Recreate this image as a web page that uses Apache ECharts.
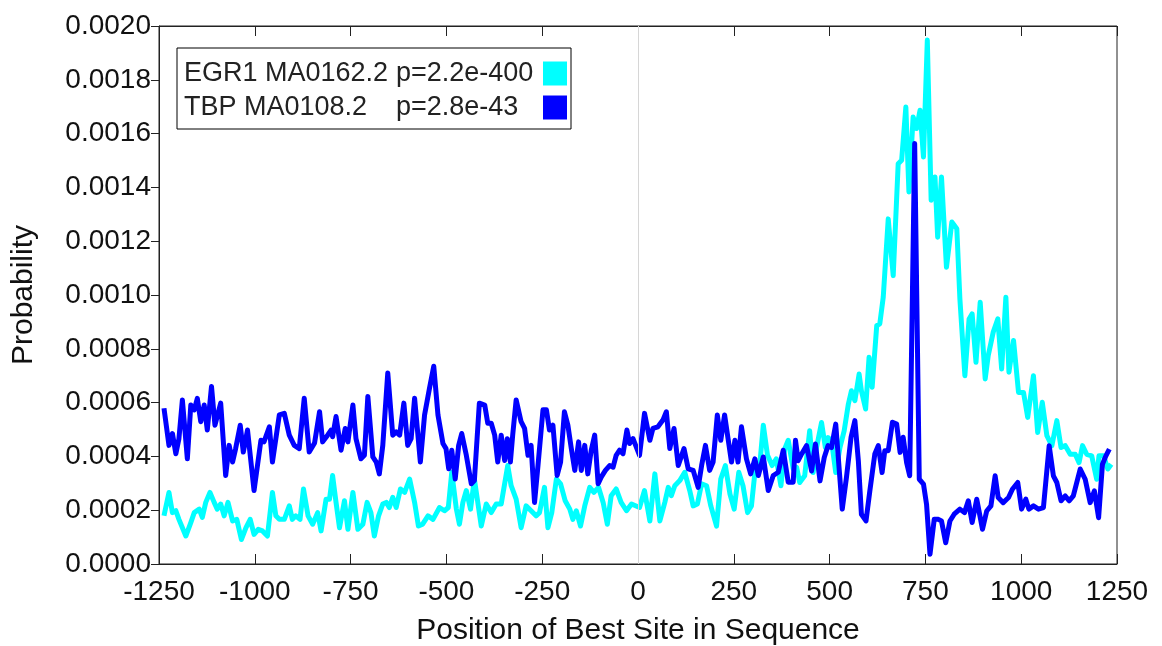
<!DOCTYPE html>
<html>
<head>
<meta charset="utf-8">
<script src="https://cdn.jsdelivr.net/npm/echarts@6/dist/echarts.min.js"></script>
<style>
  html, body { margin: 0; padding: 0; background: #fff; }
  #chart { width: 1162px; height: 646px; }
</style>
</head>
<body>
<div id="chart"></div>
<script>
// EGR1 MA0162.2 (cyan) - position / probability
const egrPos = [-1237, -1224, -1215, -1206, -1198, -1180, -1167, -1158, -1145, -1137, -1128, -1117, -1106, -1098, -1089, -1080, -1070, -1058, -1047, -1035,
  -1023, -1012, -1002, -991, -980, -967, -954, -945, -936, -923, -910, -902, -893, -882, -873, -861, -849, -836, -827, -814,
  -805, -797, -788, -779, -766, -757, -744, -731, -718, -707, -697, -688, -677, -666, -657, -649, -640, -631, -620, -609,
  -596, -583, -573, -562, -548, -535, -518, -505, -495, -486, -474, -466, -457, -448, -437, -427, -409, -396, -383, -370,
  -357, -340, -331, -318, -305, -292, -279, -266, -257, -244, -235, -225, -213, -202, -190, -178, -170, -161, -150, -139,
  -126, -115, -103, -91, -80, -70, -57, -44, -30, -17, 4, 17, 31, 44, 57, 70, 79, 87, 96, 109,
  122, 135, 144, 155, 166, 179, 190, 205, 216, 228, 240, 251, 263, 274, 286, 296, 307, 318, 327, 338,
  350, 361, 373, 383, 392, 405, 414, 422, 435, 448, 457, 466, 479, 489, 496, 505, 516, 527, 538, 549,
  557, 566, 577, 583, 594, 603, 611, 623, 631, 640, 653, 666, 679, 688, 699, 707, 718, 727, 736, 745,
  755, 765, 775, 782, 792, 805, 819, 832, 840, 853, 864, 872, 882, 893, 906, 914, 927, 939, 949, 960,
  968, 980, 993, 1006, 1017, 1032, 1043, 1055, 1067, 1080, 1093, 1104, 1115, 1128, 1141, 1151, 1160, 1171, 1184, 1197,
  1203, 1215, 1226, 1235];
const egrVal = [1.79e-4, 2.66e-4, 1.91e-4, 1.98e-4, 1.66e-4, 1.04e-4, 1.54e-4, 1.91e-4, 2.04e-4, 1.73e-4, 2.29e-4, 2.66e-4, 2.29e-4, 2.04e-4, 2.23e-4, 1.79e-4, 2.29e-4, 1.60e-4, 1.66e-4, 0.91e-4,
  1.35e-4, 1.66e-4, 1.10e-4, 1.29e-4, 1.23e-4, 1.04e-4, 2.66e-4, 1.79e-4, 1.66e-4, 1.66e-4, 2.16e-4, 1.66e-4, 1.79e-4, 1.66e-4, 2.79e-4, 1.79e-4, 1.48e-4, 1.91e-4, 1.23e-4, 2.41e-4,
  2.41e-4, 3.29e-4, 2.29e-4, 1.35e-4, 2.35e-4, 1.29e-4, 2.66e-4, 1.29e-4, 1.48e-4, 2.29e-4, 1.91e-4, 1.04e-4, 1.79e-4, 2.23e-4, 2.29e-4, 2.10e-4, 2.48e-4, 2.10e-4, 2.79e-4, 2.66e-4,
  3.16e-4, 2.29e-4, 1.41e-4, 1.48e-4, 1.79e-4, 1.66e-4, 2.10e-4, 1.98e-4, 2.10e-4, 3.41e-4, 2.04e-4, 1.48e-4, 2.29e-4, 2.73e-4, 2.04e-4, 3.16e-4, 1.41e-4, 2.23e-4, 1.91e-4, 2.23e-4,
  2.23e-4, 3.66e-4, 2.91e-4, 2.41e-4, 1.35e-4, 2.16e-4, 1.98e-4, 1.79e-4, 1.91e-4, 2.85e-4, 1.35e-4, 1.91e-4, 3.16e-4, 2.98e-4, 2.35e-4, 2.04e-4, 1.66e-4, 1.98e-4, 1.41e-4, 2.16e-4,
  2.85e-4, 2.66e-4, 2.85e-4, 2.29e-4, 1.48e-4, 2.54e-4, 2.79e-4, 2.29e-4, 1.98e-4, 2.23e-4, 2.10e-4, 2.73e-4, 1.60e-4, 3.35e-4, 1.60e-4, 2.29e-4, 2.85e-4, 2.54e-4, 2.91e-4, 3.10e-4,
  3.41e-4, 2.73e-4, 2.16e-4, 2.23e-4, 2.98e-4, 2.91e-4, 2.16e-4, 1.41e-4, 3.16e-4, 3.66e-4, 2.60e-4, 2.04e-4, 3.41e-4, 2.91e-4, 1.91e-4, 2.16e-4, 3.66e-4, 3.73e-4, 5.16e-4, 4.04e-4,
  3.66e-4, 3.91e-4, 2.91e-4, 4.29e-4, 4.60e-4, 3.54e-4, 3.59e-4, 3.03e-4, 3.28e-4, 4.95e-4, 3.40e-4, 4.33e-4, 5.26e-4, 4.33e-4, 4.70e-4, 4.58e-4, 3.40e-4, 4.33e-4, 4.95e-4, 5.95e-4,
  6.44e-4, 6.07e-4, 7.06e-4, 6.44e-4, 5.76e-4, 7.69e-4, 6.57e-4, 8.86e-4, 8.93e-4, 9.92e-4, 12.83e-4, 10.72e-4, 14.88e-4, 15.01e-4, 16.99e-4, 13.83e-4, 16.62e-4, 16.19e-4, 16.87e-4, 15.13e-4,
  19.48e-4, 13.52e-4, 14.39e-4, 12.15e-4, 14.39e-4, 11.03e-4, 12.71e-4, 12.46e-4, 9.86e-4, 7.00e-4, 9.11e-4, 9.30e-4, 7.50e-4, 9.73e-4, 6.88e-4, 7.75e-4, 8.62e-4, 9.11e-4, 7.25e-4, 9.92e-4,
  7.13e-4, 8.31e-4, 6.38e-4, 6.38e-4, 5.45e-4, 7.00e-4, 4.89e-4, 6.01e-4, 4.77e-4, 4.40e-4, 5.33e-4, 4.33e-4, 4.40e-4, 4.08e-4, 4.08e-4, 3.77e-4, 4.40e-4, 4.08e-4, 4.02e-4, 3.15e-4,
  4.02e-4, 4.02e-4, 3.53e-4, 3.71e-4];

// TBP MA0108.2 (blue) - position / probability
const tbpPos = [-1237, -1224, -1215, -1206, -1198, -1189, -1176, -1167, -1158, -1150, -1141, -1132, -1124, -1113, -1104, -1097, -1089, -1076, -1067, -1058,
  -1050, -1038, -1030, -1019, -1002, -984, -976, -962, -954, -936, -923, -910, -897, -884, -871, -858, -844, -831, -823, -810,
  -801, -797, -788, -775, -764, -757, -744, -736, -723, -714, -705, -692, -683, -675, -666, -653, -640, -631, -622, -611,
  -601, -592, -583, -568, -557, -544, -533, -522, -509, -501, -494, -486, -477, -468, -460, -448, -435, -427, -414, -400,
  -392, -383, -374, -366, -357, -348, -341, -333, -327, -318, -305, -296, -287, -279, -270, -261, -248, -239, -231, -222,
  -211, -202, -192, -183, -174, -165, -155, -148, -139, -131, -122, -113, -104, -96, -85, -74, -65, -57, -48, -39,
  -29, -22, -13, 4, 17, 31, 39, 52, 65, 74, 83, 94, 105, 120, 131, 144, 157, 166, 176, 187,
  196, 207, 216, 226, 235, 244, 253, 261, 270, 283, 294, 305, 314, 327, 340, 353, 366, 379, 392, 405,
  411, 418, 427, 440, 453, 463, 475, 486, 496, 505, 516, 533, 544, 556, 566, 575, 583, 595, 605, 618,
  627, 637, 644, 653, 664, 675, 684, 692, 701, 709, 722, 734, 745, 753, 762, 773, 784, 792, 803, 814,
  825, 840, 852, 862, 872, 884, 899, 910, 921, 932, 940, 953, 967, 977, 991, 1001, 1012, 1020, 1032, 1045,
  1058, 1073, 1084, 1093, 1104, 1115, 1125, 1136, 1154, 1167, 1180, 1191, 1202, 1212, 1221, 1230];
const tbpVal = [5.79e-4, 4.41e-4, 4.85e-4, 4.10e-4, 4.66e-4, 6.10e-4, 3.91e-4, 5.91e-4, 5.73e-4, 6.16e-4, 5.29e-4, 5.91e-4, 4.98e-4, 6.60e-4, 5.16e-4, 5.54e-4, 5.98e-4, 3.29e-4, 4.41e-4, 3.79e-4,
  4.29e-4, 5.16e-4, 4.16e-4, 4.98e-4, 2.73e-4, 4.60e-4, 4.54e-4, 5.10e-4, 3.79e-4, 5.54e-4, 5.60e-4, 4.79e-4, 4.41e-4, 4.29e-4, 6.16e-4, 4.16e-4, 4.50e-4, 5.66e-4, 4.54e-4, 4.79e-4,
  4.98e-4, 4.73e-4, 5.48e-4, 4.23e-4, 5.04e-4, 4.54e-4, 5.91e-4, 4.66e-4, 3.91e-4, 4.04e-4, 6.23e-4, 3.98e-4, 3.79e-4, 3.35e-4, 4.41e-4, 7.10e-4, 4.79e-4, 4.91e-4, 4.79e-4, 5.98e-4,
  4.41e-4, 4.66e-4, 6.16e-4, 3.79e-4, 5.54e-4, 6.54e-4, 7.35e-4, 5.54e-4, 4.48e-4, 4.29e-4, 3.54e-4, 4.23e-4, 3.16e-4, 4.41e-4, 4.85e-4, 4.04e-4, 2.98e-4, 3.10e-4, 5.98e-4, 5.91e-4,
  5.23e-4, 5.23e-4, 4.79e-4, 3.79e-4, 4.79e-4, 3.85e-4, 4.66e-4, 3.79e-4, 4.79e-4, 6.10e-4, 5.29e-4, 5.04e-4, 4.04e-4, 4.41e-4, 2.29e-4, 3.66e-4, 5.73e-4, 5.73e-4, 4.98e-4, 5.16e-4,
  3.29e-4, 3.79e-4, 5.66e-4, 5.16e-4, 4.29e-4, 3.48e-4, 4.54e-4, 3.48e-4, 4.41e-4, 3.35e-4, 4.23e-4, 4.79e-4, 2.98e-4, 3.23e-4, 3.48e-4, 3.66e-4, 3.60e-4, 4.04e-4, 4.23e-4, 4.10e-4,
  4.98e-4, 4.48e-4, 4.66e-4, 4.04e-4, 5.60e-4, 4.60e-4, 5.04e-4, 5.10e-4, 5.35e-4, 5.66e-4, 4.29e-4, 5.04e-4, 3.66e-4, 4.29e-4, 3.54e-4, 3.48e-4, 2.85e-4, 3.66e-4, 4.41e-4, 3.48e-4,
  3.79e-4, 5.54e-4, 4.60e-4, 5.54e-4, 4.66e-4, 3.79e-4, 4.60e-4, 3.79e-4, 5.10e-4, 3.91e-4, 3.35e-4, 3.91e-4, 3.29e-4, 3.98e-4, 2.73e-4, 3.29e-4, 3.41e-4, 4.23e-4, 3.04e-4, 3.04e-4,
  4.60e-4, 3.84e-4, 4.09e-4, 4.40e-4, 3.46e-4, 4.46e-4, 3.09e-4, 3.96e-4, 4.40e-4, 4.33e-4, 5.20e-4, 2.04e-4, 3.22e-4, 4.71e-4, 5.33e-4, 3.84e-4, 1.85e-4, 1.60e-4, 2.72e-4, 4.09e-4,
  4.40e-4, 3.40e-4, 4.21e-4, 4.21e-4, 5.27e-4, 5.20e-4, 4.15e-4, 4.71e-4, 3.77e-4, 3.28e-4, 15.63e-4, 3.15e-4, 2.97e-4, 2.22e-4, 0.36e-4, 1.66e-4, 1.66e-4, 1.60e-4, 0.79e-4, 1.60e-4,
  1.85e-4, 2.04e-4, 1.91e-4, 2.35e-4, 1.54e-4, 2.41e-4, 1.29e-4, 1.97e-4, 2.16e-4, 3.28e-4, 2.47e-4, 2.28e-4, 2.47e-4, 2.78e-4, 3.03e-4, 2.04e-4, 2.41e-4, 2.04e-4, 2.16e-4, 2.04e-4,
  2.10e-4, 4.40e-4, 3.28e-4, 3.03e-4, 2.35e-4, 2.53e-4, 2.35e-4, 2.53e-4, 3.53e-4, 3.15e-4, 2.28e-4, 2.72e-4, 1.72e-4, 3.71e-4, 4.02e-4, 4.27e-4];

const seriesNames = ['EGR1 MA0162.2', 'TBP MA0108.2'];
const pValues = ['p=2.2e-400', 'p=2.8e-43'];
const seriesColors = ['#00ffff', '#0000ff'];

const FONT = '"Liberation Sans", Arial, sans-serif';

const chart = echarts.init(document.getElementById('chart'));

const toPairs = (xs, ys) => xs.map((x, i) => [x, ys[i]]);

const option = {
  animation: false,
  backgroundColor: '#fff',
  grid: {
    left: 159, right: 45, top: 26, bottom: 82,
    outerBoundsMode: 'none',
    containLabel: false,
    show: true, borderColor: '#222', borderWidth: 1,
  },
  legend: {
    orient: 'vertical',
    left: 177, top: 48,
    align: 'right',
    icon: 'rect',
    itemWidth: 24, itemHeight: 24, itemGap: 7,
    padding: [12, 4, 8, 7],
    borderColor: '#000', borderWidth: 1,
    backgroundColor: '#fff',
    itemStyle: { borderWidth: 0 },
    formatter: function (name) {
      const i = seriesNames.indexOf(name);
      return '{n|' + name + '}{p|' + pValues[i] + '}';
    },
    textStyle: {
      fontFamily: FONT, fontSize: 27, color: '#222', align: 'left',
      rich: {
        n: { width: 212, align: 'left', fontFamily: FONT, fontSize: 27, color: '#222' },
        p: { width: 142, align: 'left', fontFamily: FONT, fontSize: 27, color: '#222' },
      },
    },
  },
  xAxis: [
    {
      type: 'value', min: -1250, max: 1250, interval: 250,
      position: 'bottom',
      axisLine: { show: true, onZero: false, lineStyle: { color: '#222', width: 1 } },
      axisTick: { show: true, inside: true, length: 10, lineStyle: { color: '#222' } },
      axisLabel: { fontFamily: FONT, fontSize: 28, color: '#111', margin: 14, formatter: (v) => String(v) },
      splitLine: { show: false },
      name: 'Position of Best Site in Sequence',
      nameLocation: 'middle', nameGap: 52,
      nameTextStyle: { fontFamily: FONT, fontSize: 30, color: '#111' },
    },
    {
      type: 'value', min: -1250, max: 1250, interval: 250,
      position: 'top',
      axisLine: { show: true, onZero: false, lineStyle: { color: '#222', width: 1 } },
      axisTick: { show: true, inside: true, length: 10, lineStyle: { color: '#222' } },
      axisLabel: { show: false },
      splitLine: { show: false },
    },
  ],
  yAxis: {
    type: 'value', min: 0, max: 0.002, interval: 0.0002,
    position: 'left',
    axisLine: { show: true, onZero: false, lineStyle: { color: '#222', width: 1 } },
    axisTick: { show: true, length: 8, lineStyle: { color: '#222' } },
    axisLabel: {
      fontFamily: FONT, fontSize: 28, color: '#111', margin: 8,
      formatter: (v) => v.toFixed(4),
    },
    splitLine: { show: false },
    name: 'Probability',
    nameLocation: 'middle', nameGap: 120,
    nameTextStyle: { fontFamily: FONT, fontSize: 30, color: '#111' },
  },
  series: [
    {
      name: seriesNames[0],
      type: 'line',
      data: toPairs(egrPos, egrVal),
      showSymbol: false,
      symbol: 'none',
      lineStyle: { color: seriesColors[0], width: 5, join: 'round' },
      itemStyle: { color: seriesColors[0] },
      markLine: {
        silent: true, symbol: 'none',
        label: { show: false },
        lineStyle: { color: '#d6d6d6', width: 1, type: 'solid' },
        data: [{ xAxis: 0 }],
      },
    },
    {
      name: seriesNames[1],
      type: 'line',
      data: toPairs(tbpPos, tbpVal),
      showSymbol: false,
      symbol: 'none',
      lineStyle: { color: seriesColors[1], width: 5, join: 'round' },
      itemStyle: { color: seriesColors[1] },
    },
  ],
};

chart.setOption(option);
</script>
</body>
</html>
